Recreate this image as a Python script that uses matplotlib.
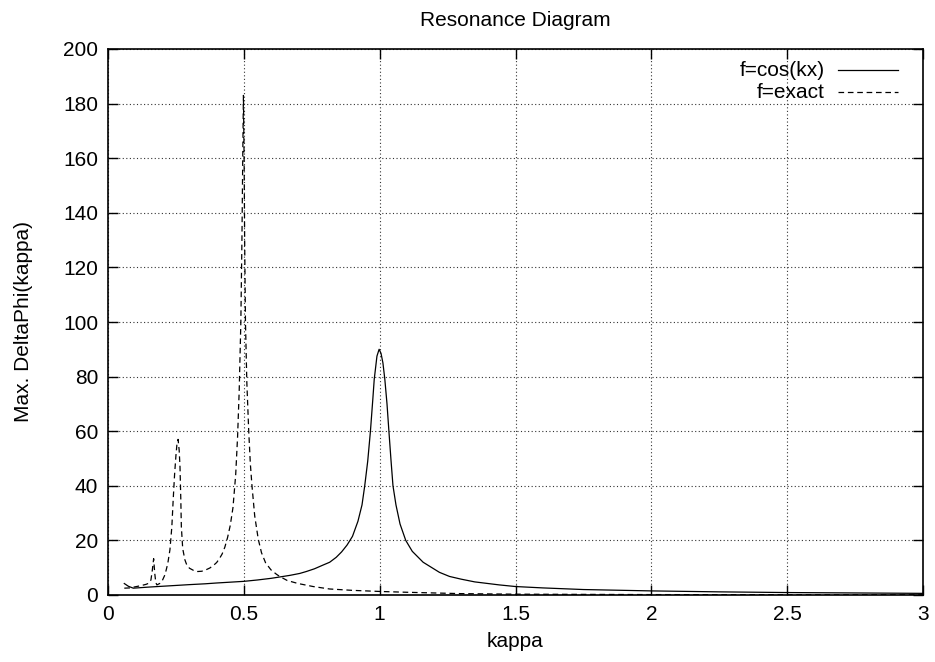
import matplotlib
matplotlib.use("Agg")
import matplotlib.pyplot as plt

plt.rcParams['font.family'] = ['Liberation Sans', 'DejaVu Sans']

title = "Resonance Diagram"
xlabel = "kappa"
ylabel = "Max. DeltaPhi(kappa)"
legend_labels = ["f=cos(kx)", "f=exact"]
xticks = [0, 0.5, 1, 1.5, 2, 2.5, 3]
xtick_labels = ["0", "0.5", "1", "1.5", "2", "2.5", "3"]
yticks = [0, 20, 40, 60, 80, 100, 120, 140, 160, 180, 200]

# f=cos(kx) (solid)
cos_k = [0.06, 0.075, 0.093, 0.15, 0.2, 0.25, 0.3, 0.357, 0.4, 0.45, 0.5, 0.55,
         0.6, 0.632, 0.67, 0.706, 0.73, 0.76, 0.79, 0.816, 0.84, 0.86, 0.88,
         0.9, 0.92, 0.935, 0.945, 0.956, 0.966, 0.975, 0.98, 0.99, 0.998,
         1.005, 1.012, 1.019, 1.027, 1.034, 1.042, 1.049, 1.06, 1.075, 1.096,
         1.12, 1.16, 1.22, 1.257, 1.3, 1.35, 1.44, 1.5, 1.6, 1.75, 2.0, 2.25,
         2.5, 2.75, 3.0]
cos_v = [4.2, 3.2, 2.5, 2.9, 3.2, 3.5, 3.8, 4.1, 4.4, 4.7, 5.0, 5.5,
         6.1, 6.6, 7.2, 7.9, 8.6, 9.6, 10.9, 12.0, 13.8, 15.8, 18.3,
         21.5, 27.0, 33.0, 40.0, 49.0, 60.0, 72.0, 79.0, 87.5, 90.0,
         88.5, 85.0, 79.0, 70.0, 60.0, 49.0, 40.0, 33.0, 26.0, 20.0,
         16.0, 12.0, 8.3, 6.8, 5.8, 4.8, 3.7, 3.1, 2.6, 2.0, 1.5, 1.15,
         0.9, 0.75, 0.6]

# f=exact (dashed)
ex_k = [0.06, 0.08, 0.1, 0.12, 0.14, 0.15, 0.158, 0.163, 0.168, 0.172, 0.176,
        0.18, 0.19, 0.2, 0.21, 0.22, 0.228, 0.235, 0.24, 0.245, 0.25, 0.254,
        0.258, 0.262, 0.265, 0.268, 0.27, 0.275, 0.283, 0.29, 0.3, 0.315,
        0.33, 0.345, 0.36, 0.375, 0.39, 0.4, 0.41, 0.42, 0.43, 0.44, 0.45,
        0.46, 0.47, 0.477, 0.483, 0.489, 0.493, 0.496, 0.4985, 0.501, 0.503,
        0.506, 0.511, 0.518, 0.524, 0.53, 0.54, 0.553, 0.565, 0.58, 0.6, 0.62,
        0.632, 0.66, 0.7, 0.755, 0.816, 0.9, 1.0, 1.1, 1.22, 1.3, 1.5, 2.0,
        2.5, 3.0]
ex_v = [2.5, 2.6, 3.0, 3.4, 3.9, 4.3, 5.5, 9.0, 13.3, 8.0, 4.5,
        3.7, 4.2, 5.3, 7.5, 11.5, 16.6, 25.0, 35.0, 44.0, 51.0, 55.5,
        57.0, 53.0, 47.0, 35.0, 25.0, 17.0, 12.9, 11.0, 9.8, 9.0,
        8.6, 8.7, 9.2, 9.9, 11.0, 11.9, 13.3, 15.0, 17.5, 21.0, 25.5,
        32.0, 44.0, 58.0, 75.0, 100.0, 130.0, 160.0, 183.0, 160.0, 130.0,
        100.0, 78.0, 60.0, 48.0, 40.0, 29.0, 20.5, 15.5, 11.8, 9.2, 7.6,
        6.8, 5.3, 4.2, 3.1, 2.2, 1.7, 1.3, 1.0, 0.7, 0.5, 0.3, 0.15,
        0.1, 0.08]

W, H = 935, 662
L, R, T, B = 108, 923, 49, 595

fig = plt.figure(figsize=(W / 100, H / 100), dpi=100)
ax = fig.add_axes([L / W, 1 - B / H, (R - L) / W, (B - T) / H])

lw = 0.9
dash = (0, (4.5, 3.0))
ax.plot(cos_k, cos_v, color='black', lw=lw, linestyle='-')
ax.plot(ex_k, ex_v, color='black', lw=lw, linestyle=dash)

ax.set_xlim(0, 3)
ax.set_ylim(0, 200)
ax.set_xticks(xticks)
ax.set_xticklabels(xtick_labels)
ax.set_yticks(yticks)

fs = 15
ax.tick_params(direction='in', top=True, right=True, length=7, width=1.0,
               labelsize=fs)
ax.tick_params(axis='x', pad=7)
ax.tick_params(axis='y', pad=7)
ax.grid(True, color='#333333', linestyle=(0, (1, 2.2)), lw=0.8)
for s in ax.spines.values():
    s.set_linewidth(1.2)

ax.set_xlabel(xlabel, fontsize=fs)
ax.xaxis.set_label_coords(0.5, -(632 - B) / (B - T))
ax.set_ylabel(ylabel, fontsize=fs)
ax.yaxis.set_label_coords(-(L - 33) / (R - L), 0.5)
fig.text((L + R) / 2 / W, 1 - 20 / H, title, ha='center', va='center',
         fontsize=fs)

# gnuplot-style legend: right-aligned text, sample line to the right
tx = (825 - L) / (R - L)
lx0 = (838 - L) / (R - L)
lx1 = (898 - L) / (R - L)
ys = [1 - (70 - T) / (B - T), 1 - (92 - T) / (B - T)]
styles = ['-', dash]
for lab, yy, st in zip(legend_labels, ys, styles):
    ax.text(tx, yy, lab, ha='right', va='center', fontsize=fs,
            transform=ax.transAxes)
    ax.plot([lx0, lx1], [yy, yy], color='black', lw=lw, linestyle=st,
            transform=ax.transAxes, clip_on=False)

fig.savefig('out.png', dpi=100)
